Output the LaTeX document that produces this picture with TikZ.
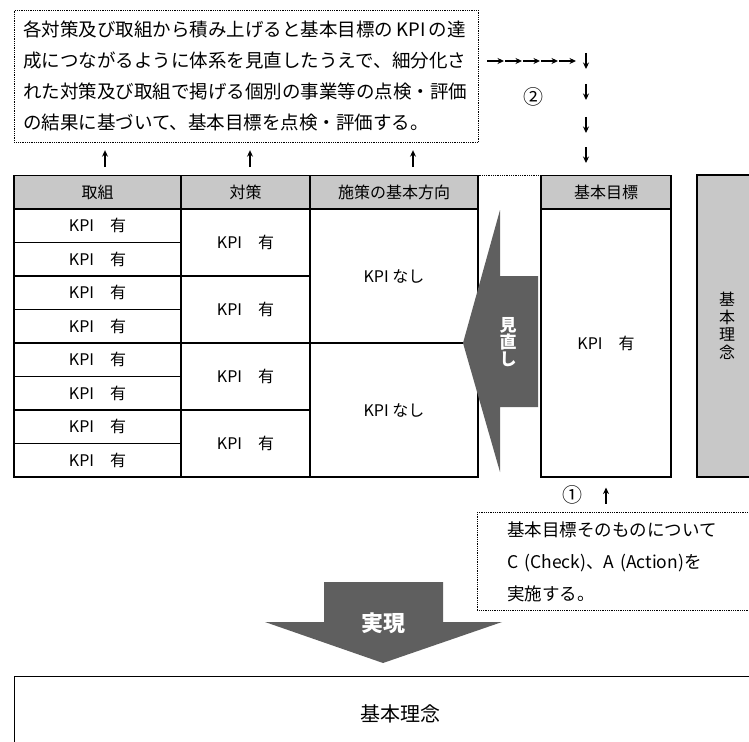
\documentclass[tikz,border=0pt]{standalone}
\usepackage{fontspec}
\setmainfont{Noto Sans CJK JP}
\usetikzlibrary{arrows.meta}
\definecolor{hdrgray}{RGB}{200,200,200}
\definecolor{arrowgray}{RGB}{95,95,95}
\tikzset{
  cell/.style={draw, line width=1.1pt, inner sep=0pt, font=\fontsize{16}{16}\selectfont},
  hdr/.style={cell, fill=hdrgray},
  note/.style={draw, densely dotted, line width=0.8pt, align=left},
  tick/.style={line width=1.2pt, -{Stealth[length=6.5pt,width=6pt]}},
}
\begin{document}
\begin{tikzpicture}[x=1pt, y=-1pt]
  \useasboundingbox (0,0) rectangle (749,741);
  \clip (0,0) rectangle (749,741);
  % check box at the top
  \node[note, anchor=north west, text width=446pt, inner xsep=9pt, minimum height=132pt,
        font=\fontsize{18.5}{31}\selectfont] (check) at (14,10)
    {各対策及び取組から積み上げると基本目標の\,KPI\,の達\\成につながるように体系を見直したうえで、細分化さ\\れた対策及び取組で掲げる個別の事業等の点検・評価\\の結果に基づいて、基本目標を点検・評価する。};
  % table
  \node[hdr, minimum width=167pt, minimum height=33.5pt] (h1) at (97.5,192.5) {取組};
  \node[hdr, minimum width=129pt, minimum height=33.5pt] (h2) at (245.5,192.5) {対策};
  \node[hdr, minimum width=168pt, minimum height=33.5pt] (h3) at (394,192.5) {施策の基本方向};
  \node[hdr, minimum width=130pt, minimum height=33.5pt] (gh) at (606,192.5) {基本目標};
  \foreach \i in {0,...,7}
    \node[cell, minimum width=167pt, minimum height=33.5pt] (t\i) at (97.5,{225.75+33.5*\i}) {KPI　有};
  \foreach \j in {0,...,3}
    \node[cell, minimum width=129pt, minimum height=67pt] (m\j) at (245.5,{242.5+67*\j}) {KPI　有};
  \foreach \k in {0,1}
    \node[cell, minimum width=168pt, minimum height=134pt] (d\k) at (394,{276+134*\k}) {KPI なし};
  \node[cell, minimum width=130pt, minimum height=268pt] (gb) at (606,343) {KPI　有};
  \node[hdr, minimum width=60pt, minimum height=302pt, align=center,
        font=\fontsize{16}{17.5}\selectfont] (ideal) at (727,326) {基\\本\\理\\念};
  \draw[densely dotted, line width=0.8pt] (h3.north east) -- (gh.north west);
  % review arrow
  \fill[arrowgray] (538,276) -- (500,276) -- (500,210) -- (463,343) -- (500,472) -- (500,407) -- (538,407) -- cycle;
  \node[text=white, align=center, font=\bfseries\fontsize{17}{17}\selectfont] (rev) at (508,342) {見\\直\\し};
  % small arrows
  \foreach \n/\dx in {h1/7.5pt, h2/4.5pt, h3/19pt}
    \draw[tick] ([xshift=\dx, yshift=8pt]\n.north) -- ([xshift=\dx, yshift=25pt]\n.north);
  \coordinate (flow) at (487,61);
  \foreach \dx in {0pt,18pt,36pt,54pt,72pt}
    \draw[tick] ([xshift=\dx]flow) -- ++(17,0);
  \coordinate (drop) at (586,53);
  \foreach \dy in {0pt,31pt,64pt,94pt}
    \draw[tick] ([yshift=-\dy]drop) -- ++(0,16);
  \node[font=\fontsize{20}{20}\selectfont] (n2) at (533,97) {②};
  \node[font=\fontsize{20}{20}\selectfont] (n1) at (572,495) {①};
  \draw[tick] ([yshift=-26pt]gb.south) -- ([yshift=-10pt]gb.south);
  % action box
  \node[note, anchor=north west, text width=253pt, inner xsep=30pt, minimum height=98pt,
        font=\fontsize{17.5}{32}\selectfont] (act) at (477,512)
    {基本目標そのものについて\\C (Check)、A (Action)を\\実施する。};
  % realize arrow
  \fill[arrowgray] (324,582) -- (443,582) -- (443,622) -- (502,622) -- (383,663) -- (265,622) -- (324,622) -- cycle;
  \node[text=white, font=\bfseries\fontsize{22}{22}\selectfont] (real) at (383,623) {実現};
  % bottom box
  \node[cell, anchor=north west, minimum width=772pt, minimum height=74pt,
        font=\fontsize{20}{20}\selectfont] (base) at (14,676) {基本理念};
\end{tikzpicture}
\end{document}
